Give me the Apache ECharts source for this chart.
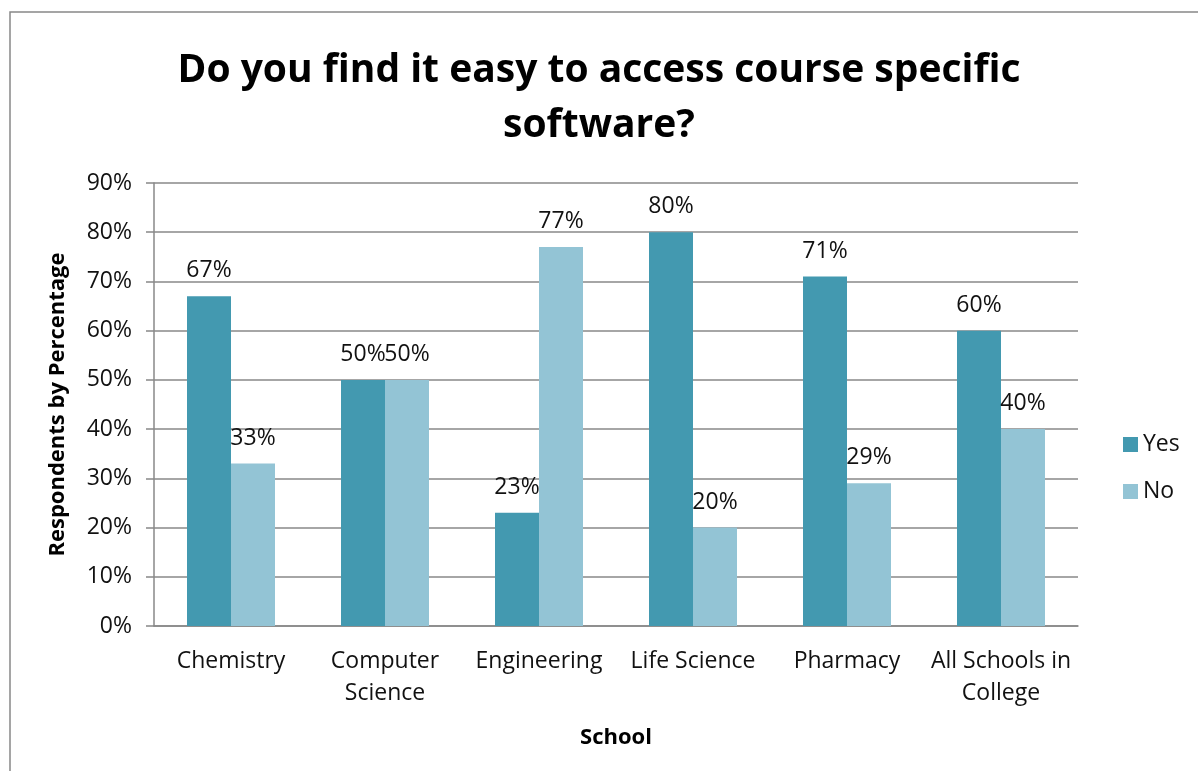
<!DOCTYPE html>
<html>
<head>
<meta charset="utf-8">
<script src="https://cdn.jsdelivr.net/npm/echarts@6/dist/echarts.min.js"></script>
<style>
  html, body { margin: 0; padding: 0; background: #fff; }
  #chart { width: 1198px; height: 771px; }
</style>
</head>
<body>
<div id="chart"></div>
<script>
// Survey results per school (percent of respondents)
const schools = ['Chemistry', 'Computer\nScience', 'Engineering', 'Life Science', 'Pharmacy', 'All Schools in\nCollege'];
const yesValues = [67, 50, 23, 80, 71, 60];
const noValues = [33, 50, 77, 20, 29, 40];
const yTicks = [0, 10, 20, 30, 40, 50, 60, 70, 80, 90];

const FONT = '"Open Sans", "DejaVu Sans", sans-serif';
const chart = echarts.init(document.getElementById('chart'), null, { renderer: 'canvas' });

const labelStyle = {
  show: true,
  position: 'top',
  distance: 14,
  formatter: p => p.value + '%',
  fontFamily: FONT,
  fontSize: 23,
  color: '#111'
};

chart.setOption({
  backgroundColor: '#fff',
  animation: false,
  title: {
    text: 'Do you find it easy to access course specific\nsoftware?',
    left: 'center',
    top: 38,
    padding: [5, 0, 5, 16],
    textStyle: {
      fontFamily: FONT,
      fontWeight: 'bold',
      fontSize: 39,
      lineHeight: 55,
      color: '#000'
    }
  },
  graphic: [{
    type: 'rect',
    shape: { x: 10, y: 12, width: 1300, height: 900 },
    style: { fill: null, stroke: '#888', lineWidth: 1.5 },
    silent: true,
    z: -1
  }],
  legend: {
    orient: 'vertical',
    left: 1118,
    top: 428,
    itemWidth: 15,
    itemHeight: 15,
    itemGap: 24,
    icon: 'rect',
    textStyle: { fontFamily: FONT, fontSize: 23, color: '#111' },
    data: ['Yes', 'No']
  },
  grid: { left: 154, right: 120, top: 183, bottom: 145, containLabel: false },
  xAxis: {
    type: 'category',
    data: schools,
    name: 'School',
    nameLocation: 'middle',
    nameGap: 101,
    nameTextStyle: { fontFamily: FONT, fontWeight: 'bold', fontSize: 22, color: '#000' },
    axisLine: { lineStyle: { color: '#888', width: 1.5 } },
    axisTick: { show: false },
    axisLabel: {
      interval: 0,
      margin: 19,
      fontFamily: FONT,
      fontSize: 23,
      lineHeight: 32,
      color: '#111'
    }
  },
  yAxis: {
    type: 'value',
    min: 0,
    max: 90,
    interval: 10,
    name: 'Respondents by Percentage',
    nameLocation: 'middle',
    nameRotate: 90,
    nameGap: 85,
    nameTextStyle: { fontFamily: FONT, fontWeight: 'bold', fontSize: 22, color: '#000' },
    axisLine: { show: true, lineStyle: { color: '#888', width: 1.5 } },
    axisTick: { show: true, length: 8, lineStyle: { color: '#888', width: 1.5 } },
    axisLabel: {
      margin: 22,
      fontFamily: FONT,
      fontSize: 23,
      color: '#111',
      formatter: v => (yTicks.includes(v) ? v + '%' : '')
    },
    splitLine: { lineStyle: { color: '#888', width: 1.5 } }
  },
  series: [
    {
      name: 'Yes',
      type: 'bar',
      data: yesValues,
      barWidth: 44,
      barGap: '0%',
      itemStyle: { color: '#4399B0' },
      label: labelStyle
    },
    {
      name: 'No',
      type: 'bar',
      data: noValues,
      barWidth: 44,
      barGap: '0%',
      itemStyle: { color: '#93C4D5' },
      label: labelStyle
    }
  ]
});
</script>
</body>
</html>
